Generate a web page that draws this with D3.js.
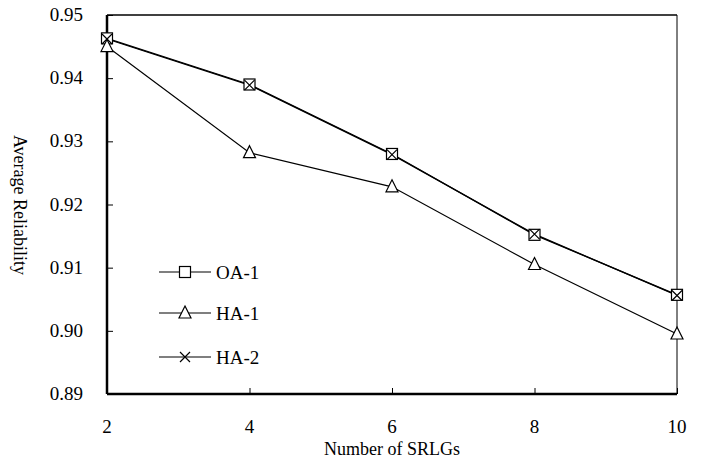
<!DOCTYPE html>
<html>
<head>
<meta charset="utf-8">
<script src="https://cdn.jsdelivr.net/npm/d3@7"></script>
<style>
  body { margin: 0; background: #fff; }
  svg text { font-family: "Liberation Serif", "Times New Roman", serif; fill: #000; }
</style>
</head>
<body>
<svg width="701" height="460"></svg>
<script>
// data
var srlgs = [2, 4, 6, 8, 10];
var oa1 = [0.9463, 0.9390, 0.9280, 0.9152, 0.9057];
var ha1 = [0.9450, 0.9282, 0.9228, 0.9105, 0.8995];
var ha2 = [0.9462, 0.9389, 0.9279, 0.9153, 0.9056];
var yTicks = [0.89, 0.90, 0.91, 0.92, 0.93, 0.94, 0.95];
var seriesNames = ["OA-1", "HA-1", "HA-2"];

var svg = d3.select("svg"),
    pl = 107, pr = 677, pt = 15, pb = 394;

var x = d3.scaleLinear().domain([2, 10]).range([pl, pr]);
var y = d3.scaleLinear().domain([0.89, 0.95]).range([pb, pt]);

// frame
svg.append("line").attr("x1", pl).attr("x2", pr).attr("y1", pt).attr("y2", pt)
    .attr("stroke", "#000").attr("stroke-width", 1.5);
svg.append("line").attr("x1", pr).attr("x2", pr).attr("y1", pt).attr("y2", pb)
    .attr("stroke", "#000").attr("stroke-width", 1);

// axes, ticks pointing inward
var yAxis = svg.append("g").attr("transform", "translate(" + pl + ",0)")
    .call(d3.axisRight(y).tickValues(yTicks).tickSize(6).tickFormat(""));
var xAxis = svg.append("g").attr("transform", "translate(0," + pb + ")")
    .call(d3.axisTop(x).tickValues(srlgs).tickSize(6).tickFormat(""));
[yAxis, xAxis].forEach(function (a) {
    a.select(".domain").attr("stroke-width", 2.5);
    a.selectAll(".tick line").attr("stroke-width", 1);
});
yAxis.select(".domain").attr("d", "M0," + pt + "V" + pb);
xAxis.select(".domain").attr("d", "M" + pl + ",0H" + pr);

// tick labels
svg.selectAll(".ylab").data(yTicks).enter().append("text")
    .attr("x", 83).attr("y", function (d) { return y(d) + 6; })
    .attr("text-anchor", "end").style("font-size", "19px")
    .text(function (d) { return d3.format(".2f")(d); });
svg.selectAll(".xlab").data(srlgs).enter().append("text")
    .attr("x", function (d) { return x(d); }).attr("y", 433)
    .attr("text-anchor", "middle").style("font-size", "19px")
    .text(function (d) { return d; });

svg.append("text").attr("x", 392).attr("y", 455).attr("text-anchor", "middle")
    .style("font-size", "18px").text("Number of SRLGs");
svg.append("text").attr("transform", "translate(14,205) rotate(90)")
    .attr("text-anchor", "middle").style("font-size", "18px").text("Average Reliability");

var line = d3.line().x(function (d, i) { return x(srlgs[i]); }).y(function (d) { return y(d); });

function squareMark(g, cx, cy) {
    g.append("rect").attr("x", cx - 5.5).attr("y", cy - 5.5).attr("width", 11).attr("height", 11)
        .attr("fill", "#fff").attr("stroke", "#000").attr("stroke-width", 1.2);
}
function triMark(g, cx, cy) {
    g.append("path").attr("d", "M" + cx + "," + (cy - 7) + "L" + (cx + 6) + "," + (cy + 5) + "L" + (cx - 6) + "," + (cy + 5) + "Z")
        .attr("fill", "#fff").attr("stroke", "#000").attr("stroke-width", 1.2);
}
function crossMark(g, cx, cy) {
    g.append("path").attr("d", "M" + (cx - 5) + "," + (cy - 5) + "L" + (cx + 5) + "," + (cy + 5) +
        "M" + (cx + 5) + "," + (cy - 5) + "L" + (cx - 5) + "," + (cy + 5))
        .attr("fill", "none").attr("stroke", "#000").attr("stroke-width", 1.2);
}

var series = [
    { name: seriesNames[0], values: oa1, mark: squareMark, w: 1.3 },
    { name: seriesNames[1], values: ha1, mark: triMark, w: 1.2 },
    { name: seriesNames[2], values: ha2, mark: crossMark, w: 1.3 }
];

series.forEach(function (s) {
    svg.append("path").datum(s.values).attr("d", line)
        .attr("fill", "none").attr("stroke", "#000").attr("stroke-width", s.w);
});
series.forEach(function (s) {
    var g = svg.append("g");
    s.values.forEach(function (v, i) { s.mark(g, x(srlgs[i]), y(v)); });
});

// legend
var legendY = [272, 313, 357];
series.forEach(function (s, i) {
    var g = svg.append("g");
    g.append("line").attr("x1", 159).attr("x2", 211).attr("y1", legendY[i]).attr("y2", legendY[i])
        .attr("stroke", "#000").attr("stroke-width", 1.2);
    s.mark(g, 185, legendY[i]);
    g.append("text").attr("x", 216).attr("y", legendY[i] + 7).style("font-size", "19px").text(s.name);
});
</script>
</body>
</html>
